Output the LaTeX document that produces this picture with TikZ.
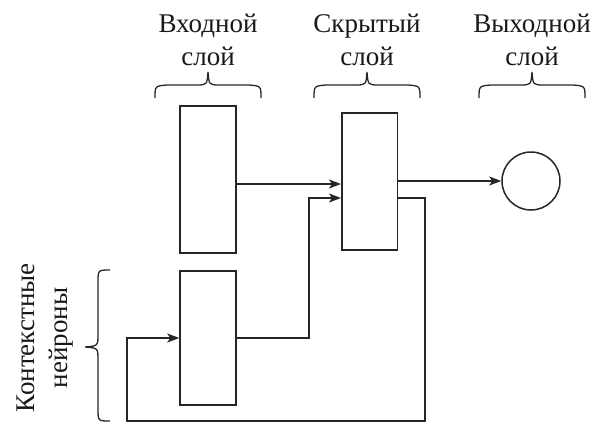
\documentclass[tikz,border=0pt]{standalone}
\usepackage{fontspec}
\setmainfont{Liberation Serif}
\usetikzlibrary{arrows.meta,calc}
\begin{document}
\begin{tikzpicture}[x=1pt,y=-1pt,
  line width=1.5pt, draw=black!85,
  box/.style={draw,minimum width=56pt,inner sep=0pt},
  arr/.style={-{Stealth[length=12pt,width=9pt,inset=3pt]}},
  lab/.style={font=\fontsize{27}{33}\selectfont,align=center,inner sep=0pt,text=black!90,anchor=base},
  topbrace/.pic={\draw[line width=1.3pt] (-53,13) .. controls (-53,1) .. (-41,0) -- (-12,0) .. controls (-1,0) .. (0,-13) .. controls (1,0) .. (12,0) -- (41,0) .. controls (53,1) .. (53,13);}
]
\useasboundingbox (0,0) rectangle (605,423);
\node[box,minimum height=147pt] (inp) at (208,179.5) {};
\node[box,minimum height=134pt] (ctx) at (208,338) {};
\node[box,minimum width=55.5pt,minimum height=137pt] (hid) at (369.5,181.5) {};
\node[draw,circle,minimum size=58pt,inner sep=0pt] (out) at (531,181) {};

\node[lab] (t1) at (208,65) {Входной\\слой};
\node[lab] (t2) at (367,65) {Скрытый\\слой};
\node[lab] (t3) at (532,65) {Выходной\\слой};
\pic at (208,85) {topbrace};
\pic at (367,85) {topbrace};
\pic at (532,85) {topbrace};

\node[lab,rotate=90] (t4) at (67,338) {Контекстные\\нейроны};
\draw[line width=1.3pt] (110,270) .. controls (98,270) .. (98,282) -- (98,334) .. controls (98,346) .. (85,347) .. controls (98,348) .. (98,360) -- (98,409) .. controls (98,421) .. (110,421);

\coordinate (ya) at (0,184);
\coordinate (yb) at (0,198);
\coordinate (xc) at (309,0);
\coordinate (xr) at (425,0);
\coordinate (bl) at (127,421);

\draw[arr] (inp.east |- ya) -- (hid.west |- ya);
\draw[arr] (ctx.east) -| (xc |- yb) -- (hid.west |- yb);
\draw[arr] (hid.east |- out.west) -- (out.west);
\draw[arr] (hid.east |- yb) -| (xr |- bl) -- (bl) |- (ctx.west);
\end{tikzpicture}
\end{document}
